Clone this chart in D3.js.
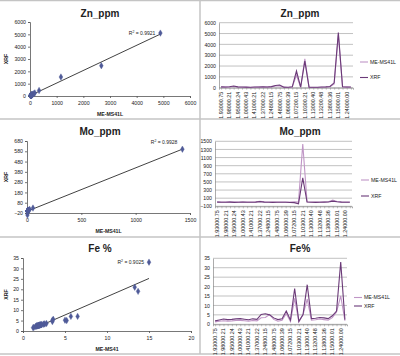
<!DOCTYPE html>
<html><head><meta charset="utf-8">
<script src="https://cdn.jsdelivr.net/npm/d3@7"></script>
<style>
body{margin:0;background:#fff}
svg text{font-family:Arial,"Liberation Sans",sans-serif;fill:#222}
</style></head>
<body><svg id="c" width="400" height="356"></svg>
<script>
// ---------- data ----------
const sampleIds = ["1.93000.75","1.95000.12","1.98000.21","1.96000.30","1.95000.24","1.99000.18","1.00000.43","1.02000.33",
  "1.41000.21","1.39000.27","1.37000.22","1.30000.19","1.24800.15","1.36000.42","1.48000.75","1.52000.11",
  "1.06000.39","1.06500.44","1.07200.15","1.08800.27","1.10300.21","1.11700.35","1.13000.40","1.13100.29",
  "1.13200.48","1.13500.17","1.13800.36","1.14400.22","1.15000.01","1.19000.05","1.24000.00","1.26000.14"];
const seriesNames = ["ME-MS41L","XRF"];

const znMe  = [60,50,70,110,60,40,30,20,40,50,60,50,80,150,180,30,20,60,1160,40,2675,30,20,20,40,60,90,340,4890,60,50,40];
const znXrf = [80,70,90,150,80,60,50,40,60,70,80,70,100,200,250,50,40,80,1540,60,2460,50,40,40,60,80,110,450,5100,80,70,60];

const moMe  = [8,6,7,8,5,6,7,6,5,9,25,8,6,5,7,6,5,6,8,4,1430,10,6,5,6,7,12,55,20,8,6,5];
const moXrf = [2,-2,0,3,-3,-1,2,0,-2,3,15,2,0,-3,1,0,-2,-5,-10,-40,600,5,0,-3,-1,2,6,28,12,2,0,-2];

const feMe  = [1.3,1.6,1.9,1.7,1.8,2.0,2.1,1.9,1.7,2.0,1.8,3.5,3.6,5.2,2.6,1.6,2.1,5.7,1.5,13.7,1.2,5.0,13.3,2.2,2.4,2.8,2.5,2.2,3.5,6.5,15.0,1.9];
const feXrf = [1.8,2.3,2.8,2.5,2.6,2.9,3.0,2.7,2.4,2.9,2.6,5.2,5.6,5.0,3.4,2.5,2.9,7.0,2.2,19.0,1.6,5.2,21.0,3.0,3.2,3.6,3.4,3.0,4.5,7.0,33.0,2.5];

const znTicks = [0,1000,2000,3000,4000,5000,6000];
const moScatterXTicks = [0,500,1000,1500];
const moScatterYTicks = [-20,80,180,280,380,480,580,680];
const moLineTicks = [-100,100,300,500,700,900,1100,1300,1500];
const feXTicks = [0,5,10,15,20];
const feYTicks = [0,5,10,15,20,25,30,35];

const r2Labels = {zn:"0.9921", mo:"0.9928", fe:"0.9025"};

// ---------- helpers ----------
const svg = d3.select("#c");
const colMe = "#c096c6", colXrf = "#6b3a78", markerCol = "#4f5a98", gridCol = "#a8a8a8";

function regression(xs, ys){
  const n = xs.length, mx = d3.mean(xs), my = d3.mean(ys);
  let sxy=0, sxx=0;
  for(let i=0;i<n;i++){sxy+=(xs[i]-mx)*(ys[i]-my); sxx+=(xs[i]-mx)**2;}
  const b = sxy/sxx, a = my-b*mx;
  return {a,b};
}

function scatter(c){
  const g = svg.append("g");
  const x = d3.scaleLinear().domain(c.xDom).range([c.left,c.right]);
  const y = d3.scaleLinear().domain(c.yDom).range([c.bottom,c.top]);
  g.append("text").attr("x",100).attr("y",c.titleY).attr("text-anchor","middle")
    .attr("font-size",10).attr("font-weight","bold").text(c.title);
  const xa = g.append("g").attr("transform",`translate(0,${c.bottom})`)
    .call(d3.axisBottom(x).tickValues(c.xTicks).tickSize(2).tickPadding(3).tickFormat(d3.format("d")));
  const ya = g.append("g").attr("transform",`translate(${c.left},0)`)
    .call(d3.axisLeft(y).tickValues(c.yTicks).tickSize(2).tickPadding(2).tickFormat(d3.format("d")));
  [xa,ya].forEach(a=>{a.selectAll("path,line").attr("stroke","#555").attr("stroke-width",0.8);
    a.selectAll("text").attr("font-size",5.2).attr("fill","#333");});
  g.append("text").attr("x",(c.left+c.right)/2).attr("y",c.bottom+20).attr("text-anchor","middle")
    .attr("font-size",5.2).attr("font-weight","bold").text(c.xTitle);
  g.append("text").attr("transform",`translate(${c.yTitleX},${(c.top+c.bottom)/2}) rotate(-90)`)
    .attr("text-anchor","middle").attr("font-size",5.2).attr("font-weight","bold").text("XRF");
  const pts = c.xs.map((v,i)=>[v,c.ys[i]]);
  const reg = regression(c.xs,c.ys);
  const x0 = d3.min(c.xs), x1 = d3.max(c.xs);
  g.append("line").attr("x1",x(x0)).attr("y1",y(reg.a+reg.b*x0)).attr("x2",x(x1)).attr("y2",y(reg.a+reg.b*x1))
    .attr("stroke","#111").attr("stroke-width",0.8);
  g.selectAll("path.m").data(pts).enter().append("path")
    .attr("d",d3.symbol(d3.symbolDiamond,12))
    .attr("transform",d=>`translate(${x(d[0])},${y(d[1])})`)
    .attr("fill",markerCol).attr("stroke",markerCol).attr("stroke-width",0.4);
  const last = pts.reduce((m,p)=>p[0]>m[0]?p:m);
  const t = g.append("text").attr("x",x(last[0])-5).attr("y",y(last[1])+c.r2dy).attr("text-anchor","end")
    .attr("font-size",5);
  t.append("tspan").text("R");
  t.append("tspan").attr("font-size",3.5).attr("dy",-2).text("2");
  t.append("tspan").attr("dy",2).text(" = "+c.r2);
}

function linechart(c){
  const g = svg.append("g");
  const x = d3.scalePoint().domain(sampleIds).range([c.left,c.right]).padding(0.5);
  const y = d3.scaleLinear().domain(c.yDom).range([c.bottom,c.top]);
  g.append("text").attr("x",300).attr("y",c.titleY).attr("text-anchor","middle")
    .attr("font-size",10).attr("font-weight","bold").text(c.title);
  g.selectAll("line.grid").data(c.yTicks).enter().append("line")
    .attr("x1",c.left).attr("x2",c.right).attr("y1",d=>y(d)).attr("y2",d=>y(d))
    .attr("stroke",gridCol).attr("stroke-width",0.7);
  const ya = g.append("g").attr("transform",`translate(${c.left},0)`)
    .call(d3.axisLeft(y).tickValues(c.yTicks).tickSize(0).tickPadding(3).tickFormat(d3.format("d")));
  ya.select("path").attr("stroke","#888").attr("stroke-width",0.7);
  ya.selectAll("text").attr("font-size",5.2).attr("fill","#333");
  const xa = g.append("g").attr("transform",`translate(0,${c.bottom})`)
    .call(d3.axisBottom(x).tickSize(2).tickPadding(2).tickFormat((d,i)=>i%2===0?d:""));
  xa.select("path").attr("stroke","#888").attr("stroke-width",0.7);
  xa.selectAll("line").attr("stroke","#888").attr("stroke-width",0.5);
  xa.selectAll("text").attr("font-size",5.4).attr("fill","#333")
    .attr("text-anchor","end").attr("dy","0.35em").attr("transform","translate(-0.5,2) rotate(-90)")
    .attr("x",-2).attr("y",0);
  const line = d3.line().x((d,i)=>x(sampleIds[i])).y(d=>y(d));
  [[c.me,colMe],[c.xrf,colXrf]].forEach(([s,col])=>{
    g.append("path").datum(s).attr("d",line).attr("fill","none").attr("stroke",col).attr("stroke-width",1.1);
  });
  [colMe,colXrf].forEach((col,i)=>{
    const ly = c.legY[i];
    g.append("line").attr("x1",c.legX).attr("x2",c.legX+8).attr("y1",ly).attr("y2",ly).attr("stroke",col).attr("stroke-width",1.1);
    g.append("text").attr("x",c.legX+10).attr("y",ly+1.8).attr("font-size",5.2).attr("fill","#333").text(seriesNames[i]);
  });
}

// separators
[[0,0.5,400,0.5],[0,119,400,119],[0,237,400,237],[0,354,400,354],[200,0,200,354]].forEach(l=>{
  svg.append("line").attr("x1",l[0]).attr("y1",l[1]).attr("x2",l[2]).attr("y2",l[3])
    .attr("stroke","#c4c4c4").attr("stroke-width",1.5);
});

scatter({title:"Zn_ppm",titleY:17,left:30,right:190,top:22,bottom:96,xDom:[0,6000],yDom:[0,6000],
  xTicks:znTicks,yTicks:znTicks,xs:znMe,ys:znXrf,xTitle:"ME-MS41L",yTitleX:8,r2:r2Labels.zn,r2dy:1.5});
scatter({title:"Mo_ppm",titleY:135,left:27,right:190,top:141,bottom:213,xDom:[0,1500],yDom:[-20,680],
  xTicks:moScatterXTicks,yTicks:moScatterYTicks,xs:moMe,ys:moXrf,xTitle:"ME-MS41L",yTitleX:8,r2:r2Labels.mo,r2dy:-5});
scatter({title:"Fe %",titleY:252,left:23,right:191,top:258,bottom:331,xDom:[0,20],yDom:[0,35],
  xTicks:feXTicks,yTicks:feYTicks,xs:feMe,ys:feXrf,xTitle:"ME-MS41",yTitleX:8,r2:r2Labels.fe,r2dy:2});

linechart({title:"Zn_ppm",titleY:17,left:219,right:353,top:22.7,bottom:87.7,yDom:[0,6000],yTicks:znTicks,
  me:znMe,xrf:znXrf,legX:360,legY:[62,77.5]});
linechart({title:"Mo_ppm",titleY:135,left:215,right:352,top:141.3,bottom:206.3,yDom:[-100,1500],yTicks:moLineTicks,
  me:moMe,xrf:moXrf,legX:361,legY:[180,196]});
linechart({title:"Fe%",titleY:252,left:213,right:347,top:258.3,bottom:324.3,yDom:[0,35],yTicks:feYTicks,
  me:feMe,xrf:feXrf,legX:354,legY:[297.5,306]});
</script></body></html>
